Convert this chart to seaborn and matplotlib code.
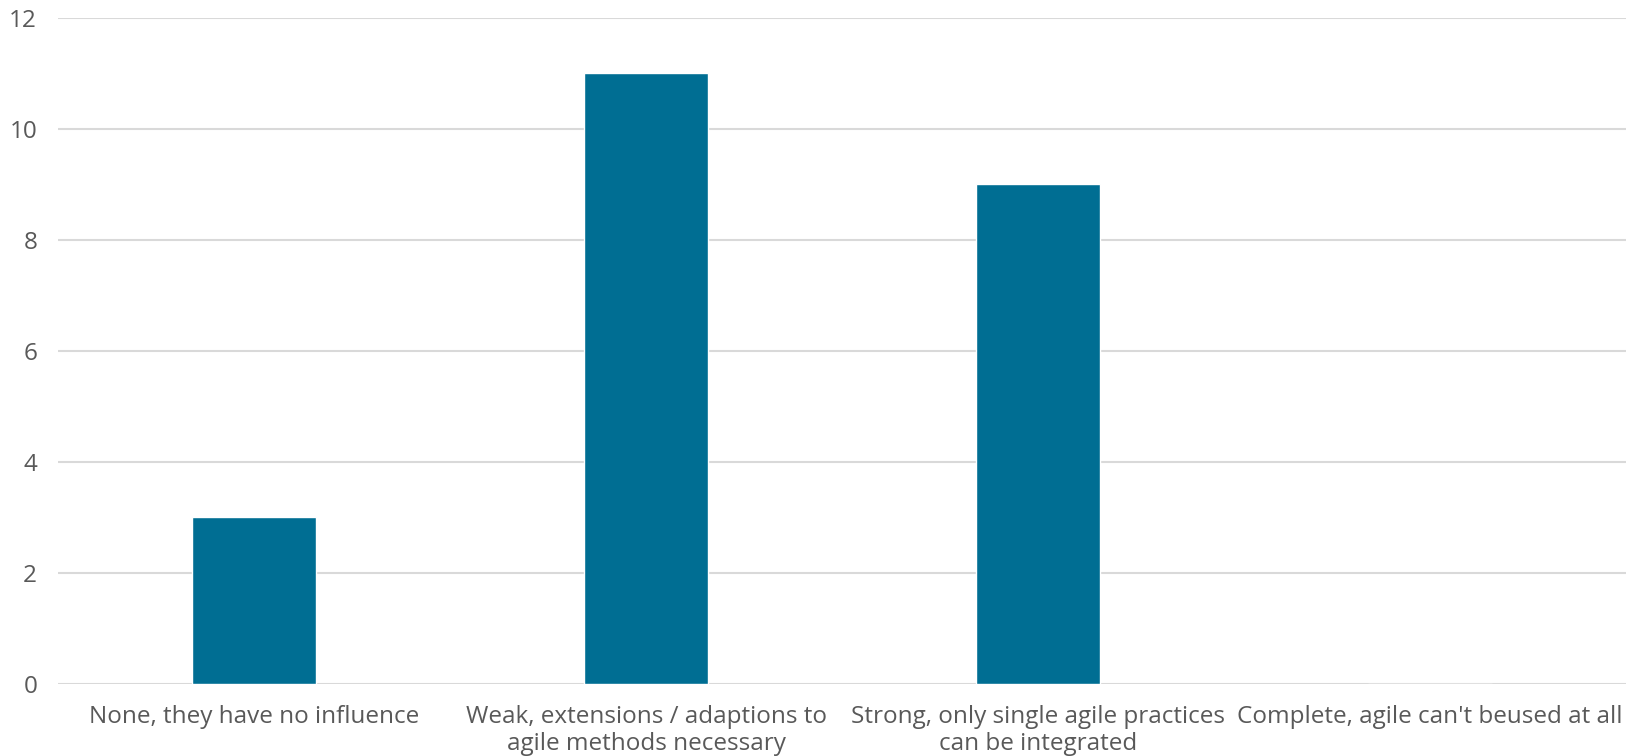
import matplotlib
matplotlib.use("Agg")
import matplotlib.pyplot as plt
import seaborn as sns
import pandas as pd

categories = [
    "None, they have no influence",
    "Weak, extensions / adaptions to\nagile methods necessary",
    "Strong, only single agile practices\ncan be integrated",
    "Complete, agile can't beused at all",
]
counts = [3, 11, 9, 0]
y_ticks = [0, 2, 4, 6, 8, 10, 12]

sns.set_theme(style="white")
plt.rcParams["font.family"] = ["Open Sans", "DejaVu Sans"]

W, H = 1639, 756
fig = plt.figure(figsize=(W / 100, H / 100), dpi=100)
ax = fig.add_axes([58 / W, 1 - 684 / H, (1626 - 58) / W, (684 - 17.7) / H])

df = pd.DataFrame({"category": categories, "count": counts})
sns.barplot(data=df, x="category", y="count", color="#006E93", saturation=1,
            width=0.314, ax=ax, zorder=3)

ax.set_ylim(0, 12)
ax.set_yticks(y_ticks)
ax.yaxis.grid(True, color="#D9D9D9", linewidth=1.5, zorder=0)
ax.set_axisbelow(True)
for s in ax.spines.values():
    s.set_visible(False)
ax.set_xlabel("")
ax.set_ylabel("")
ax.tick_params(axis="both", length=0, colors="#595959", labelsize=17.5)
ax.tick_params(axis="y", pad=15)
ax.tick_params(axis="x", pad=15)
for lbl in ax.get_yticklabels():
    lbl.set_horizontalalignment("right")
for lbl in ax.get_xticklabels():
    lbl.set_linespacing(1.2)

fig.savefig("out.png", dpi=100, facecolor="white")
